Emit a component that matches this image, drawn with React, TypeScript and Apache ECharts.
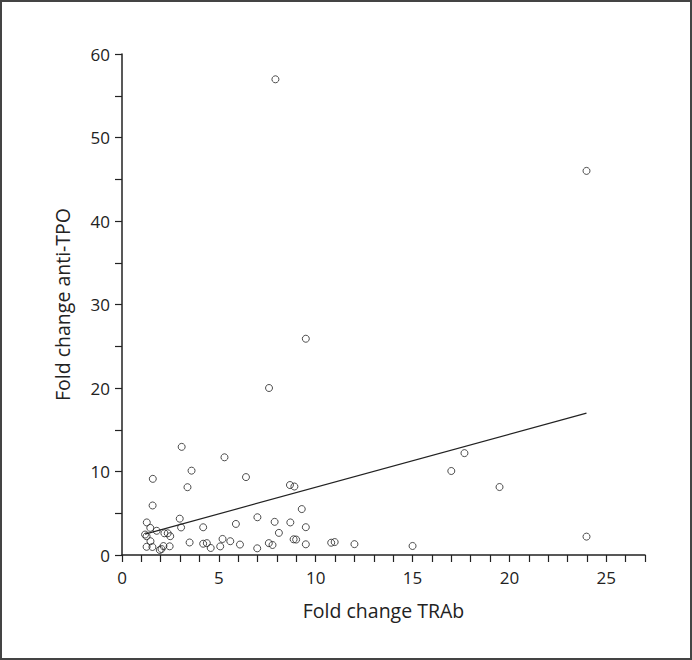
import React, { useEffect, useRef } from "react";
import * as echarts from "echarts";

const xTitle = "Fold change TRAb";
const yTitle = "Fold change anti-TPO";

const trabFold: number[] = [
  7.92, 23.98, 9.49, 7.59, 3.08, 5.29, 17.68, 17.0, 3.59, 1.59,
  6.4, 3.38, 8.67, 8.9, 19.49, 1.58, 9.28, 6.99, 2.98, 1.28,
  7.88, 8.69, 5.88, 1.46, 3.05, 4.19, 9.49, 1.79, 8.1, 2.19,
  2.36, 1.19, 1.27, 2.49, 23.98, 5.19, 8.86, 8.99, 1.47, 5.59,
  3.49, 10.8, 10.98, 4.38, 4.19, 7.58, 7.77, 12.0, 9.49, 6.09,
  15.0, 2.14, 2.46, 5.07, 1.27, 1.57, 4.58, 6.98, 2.04, 1.95,
];
const tpoFold: number[] = [
  56.97, 46.0, 25.9, 20.0, 12.95, 11.7, 12.2, 10.06, 10.1, 9.12,
  9.33, 8.12, 8.38, 8.2, 8.14, 5.93, 5.5, 4.52, 4.35, 3.9,
  3.97, 3.9, 3.72, 3.25, 3.3, 3.32, 3.33, 2.9, 2.65, 2.6,
  2.6, 2.45, 2.25, 2.25, 2.2, 1.92, 1.88, 1.85, 1.65, 1.65,
  1.5, 1.47, 1.55, 1.42, 1.35, 1.42, 1.2, 1.3, 1.28, 1.25,
  1.08, 1.07, 1.04, 1.03, 0.98, 0.96, 0.84, 0.8, 0.72, 0.6,
];

const fitX: number[] = [1.19, 23.98];
const fitY: number[] = [2.5, 17.0];

const FONT = "'Open Sans', 'Noto Sans', sans-serif";
const INK = "#222";

export default function App() {
  const ref = useRef<HTMLDivElement>(null);
  useEffect(() => {
    document.body.style.margin = "0";
    if (!ref.current) return;
    const chart = echarts.init(ref.current, null, { renderer: "svg" });
    const points = trabFold.map((x, i) => [x, tpoFold[i]]);
    const fit = fitX.map((x, i) => [x, fitY[i]]);
    chart.setOption({
      animation: false,
      backgroundColor: "#fff",
      grid: { left: 122, right: 47, top: 54, bottom: 105, containLabel: false },
      graphic: [
        {
          type: "rect",
          shape: { x: 1, y: 1, width: 690, height: 658 },
          style: { fill: "none", stroke: "#444", lineWidth: 2 },
          silent: true,
        },
      ],
      xAxis: {
        type: "value",
        min: 0,
        max: 27,
        interval: 1,
        name: xTitle,
        nameLocation: "middle",
        nameGap: 45,
        nameTextStyle: { fontFamily: FONT, fontSize: 19.5, color: INK },
        splitLine: { show: false },
        axisLine: { show: true, onZero: false, lineStyle: { color: INK, width: 1.5 } },
        axisTick: { show: true, length: 7, lineStyle: { color: INK, width: 1.2 } },
        axisLabel: {
          fontFamily: FONT,
          fontSize: 17,
          color: INK,
          margin: 14,
          formatter: (v: number) => (v % 5 === 0 ? String(v) : ""),
        },
      },
      yAxis: {
        type: "value",
        min: 0,
        max: 60,
        interval: 5,
        name: yTitle,
        nameLocation: "middle",
        nameGap: 50,
        nameRotate: 90,
        nameTextStyle: { fontFamily: FONT, fontSize: 19.5, color: INK },
        splitLine: { show: false },
        axisLine: { show: true, onZero: false, lineStyle: { color: INK, width: 1.5 } },
        axisTick: { show: true, length: 7, lineStyle: { color: INK, width: 1.2 } },
        axisLabel: {
          fontFamily: FONT,
          fontSize: 17,
          color: INK,
          margin: 12,
          formatter: (v: number) => (v % 10 === 0 ? String(v) : ""),
        },
      },
      series: [
        {
          type: "scatter",
          data: points,
          symbol: "circle",
          symbolSize: 7,
          itemStyle: { color: "rgba(0,0,0,0)", borderColor: INK, borderWidth: 1 },
          z: 3,
        },
        {
          type: "line",
          data: fit,
          symbol: "none",
          lineStyle: { color: INK, width: 1.2 },
          z: 2,
        },
      ],
    });
    return () => chart.dispose();
  }, []);
  return (
    <div
      ref={ref}
      style={{ position: "absolute", left: 0, top: 0, width: 692, height: 660 }}
    />
  );
}
